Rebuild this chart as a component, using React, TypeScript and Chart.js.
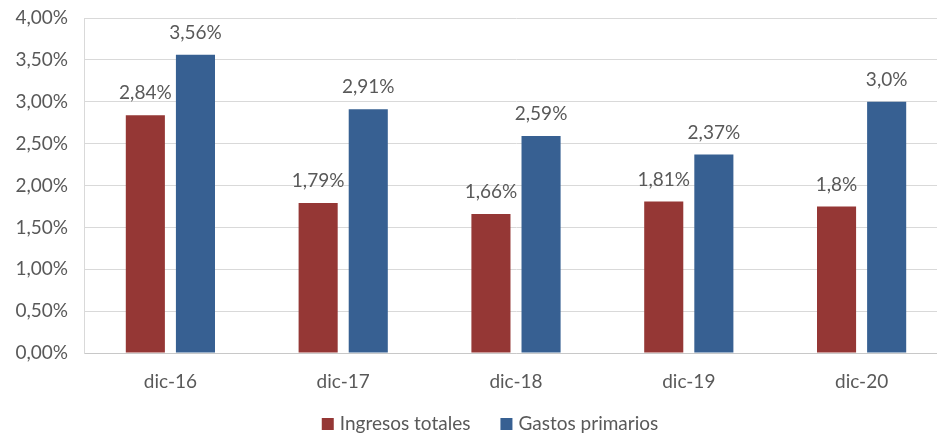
import React, { useEffect, useRef } from "react";
import { Chart, registerables } from "chart.js";

Chart.register(...registerables);

const categories = ["dic-16", "dic-17", "dic-18", "dic-19", "dic-20"];
const seriesNames = ["Ingresos totales", "Gastos primarios"];
const ingresos = [2.84, 1.79, 1.66, 1.81, 1.75];
const gastos = [3.56, 2.91, 2.59, 2.37, 3.0];
const ingresosLabels = ["2,84%", "1,79%", "1,66%", "1,81%", "1,8%"];
const gastosLabels = ["3,56%", "2,91%", "2,59%", "2,37%", "3,0%"];
const yMin = 0;
const yMax = 4;
const yStep = 0.5;

const RED = "#953735";
const BLUE = "#376092";
const TEXT = "#595959";
const FONT = "Lato, 'Open Sans', sans-serif";

const valueLabels = [ingresosLabels, gastosLabels];

const dataLabelPlugin = {
  id: "dataLabels",
  afterDatasetsDraw(chart: any) {
    const ctx = chart.ctx;
    ctx.save();
    ctx.font = `19px ${FONT}`;
    ctx.fillStyle = TEXT;
    ctx.textAlign = "center";
    ctx.textBaseline = "middle";
    chart.data.datasets.forEach((ds: any, di: number) => {
      const meta = chart.getDatasetMeta(di);
      meta.data.forEach((el: any, i: number) => {
        ctx.fillText(valueLabels[di][i], el.x, el.y - 22);
      });
    });
    ctx.restore();
  },
};

const legendPlugin = {
  id: "customLegend",
  afterDraw(chart: any) {
    const ctx = chart.ctx;
    ctx.save();
    ctx.font = `19px ${FONT}`;
    ctx.textBaseline = "middle";
    ctx.textAlign = "left";
    const y = 424;
    const box = 12;
    const gap = 6;
    const itemGap = 30;
    const widths = chart.data.datasets.map((ds: any) => box + gap + ctx.measureText(ds.label).width);
    const total = widths.reduce((a: number, b: number) => a + b, 0) + itemGap * (widths.length - 1);
    let x = 490 - total / 2;
    chart.data.datasets.forEach((ds: any, i: number) => {
      ctx.fillStyle = ds.backgroundColor;
      ctx.fillRect(x, y - 6, box, box);
      ctx.fillStyle = TEXT;
      ctx.fillText(ds.label, x + box + gap, y);
      x += widths[i] + itemGap;
    });
    ctx.restore();
  },
};

export default function App() {
  const ref = useRef<HTMLCanvasElement>(null);

  useEffect(() => {
    if (!ref.current) return;
    const chart = new Chart(ref.current, {
      type: "bar",
      data: {
        labels: categories,
        datasets: [
          { label: seriesNames[0], data: ingresos, backgroundColor: RED },
          { label: seriesNames[1], data: gastos, backgroundColor: BLUE },
        ],
      },
      options: {
        responsive: false,
        animation: false,
        devicePixelRatio: 1,
        datasets: { bar: { categoryPercentage: 0.58, barPercentage: 0.78 } },
        layout: { padding: { top: 18, bottom: 21, left: 0, right: 0 } },
        plugins: { legend: { display: false }, tooltip: { enabled: false } },
        scales: {
          x: {
            grid: { display: false, drawTicks: false },
            border: { color: "#c8c8c8", width: 1 },
            ticks: { color: TEXT, font: { family: FONT, size: 19 }, padding: 17 },
            afterFit(scale: any) {
              scale.height = 60;
            },
          },
          y: {
            min: yMin,
            max: yMax,
            ticks: {
              stepSize: yStep,
              color: TEXT,
              font: { family: FONT, size: 19 },
              padding: 16,
              callback: (v: any) => Number(v).toFixed(2).replace(".", ",") + "%",
            },
            grid: { color: "#d9d9d9", drawTicks: false },
            border: { color: "#d9d9d9", width: 1 },
            afterFit(scale: any) {
              scale.width = 84;
              scale.paddingTop = 0;
              scale.paddingBottom = 0;
            },
          },
        },
      },
      plugins: [dataLabelPlugin, legendPlugin],
    });
    return () => chart.destroy();
  }, []);

  return (
    <div
      style={{
        position: "fixed",
        left: 0,
        top: 0,
        width: 937,
        height: 434,
        overflow: "hidden",
        background: "#fff",
      }}
    >
      <canvas ref={ref} width={948} height={434} style={{ display: "block" }} />
    </div>
  );
}
